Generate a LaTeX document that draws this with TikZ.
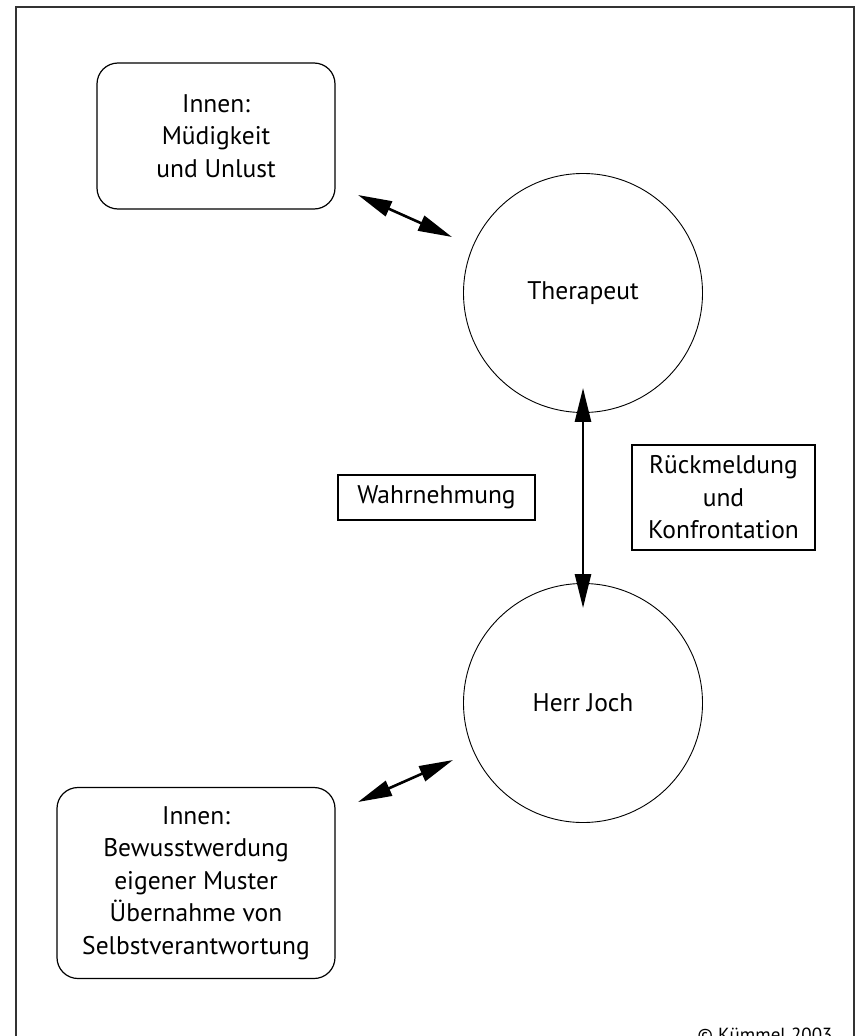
\documentclass[tikz,border=0pt]{standalone}
\usepackage{fontspec}
\setmainfont{PT Sans}
\usetikzlibrary{arrows.meta,calc}
\begin{document}
\begin{tikzpicture}[x=1pt,y=-1pt,
  every node/.style={font=\fontsize{25.5}{32.5}\selectfont, align=center},
  roundbox/.style={draw, line width=1.2pt, rounded corners=21pt, inner sep=0pt},
  labelbox/.style={draw, line width=1.2pt, inner sep=0pt},
  person/.style={draw, circle, line width=0.9pt, inner sep=0pt, minimum size=239pt},
  link/.style={line width=2.6pt, {Triangle[length=34pt,width=16pt]}-{Triangle[length=34pt,width=16pt]}}]
  \useasboundingbox (0,0) rectangle (858,1036);
  % outer frame (its lower edge lies below the page)
  \draw[line width=1.6pt, black!80] (16,1070) -- (16,7) -- (854,7) -- (854,1070);

  % the two persons
  \node[person] (ther) at (583,293) {Therapeut};
  \node[person] (joch) at (583,703) {Herr Joch};

  % inner states
  \node[roundbox, minimum width=238pt, minimum height=146pt] (inn1) at (216,136)
    {Innen:\\Müdigkeit\\und Unlust};
  \node[roundbox, minimum width=278pt, minimum height=191pt] (inn2) at (196,883)
    {Innen:\\Bewusstwerdung\\eigener Muster\\Übernahme von\\Selbstverantwortung};

  % labels of the exchange
  \node[labelbox, minimum width=197pt, minimum height=45pt] (wahr) at (436.5,497.5) {Wahrnehmung};
  \node[labelbox, minimum width=183pt, minimum height=105pt] (rueck) at (723.5,497.5)
    {Rückmeldung\\und\\Konfrontation};

  % free ends of the double arrows
  \coordinate (a1) at (358,195);
  \coordinate (a2) at (452,237);
  \coordinate (b1) at (358,802);
  \coordinate (b2) at (453,760);
  \coordinate (c1) at ($(ther.south)+(0,-25)$);
  \coordinate (c2) at ($(joch.north)+(0,25)$);

  \draw[link] (a1) -- (a2);
  \draw[link] (b1) -- (b2);
  \draw[link] (c1) -- (c2);

  \node[anchor=base east, font=\fontsize{19}{22}\selectfont] (copy) at (836,1041) {© Kümmel 2003};
\end{tikzpicture}
\end{document}
